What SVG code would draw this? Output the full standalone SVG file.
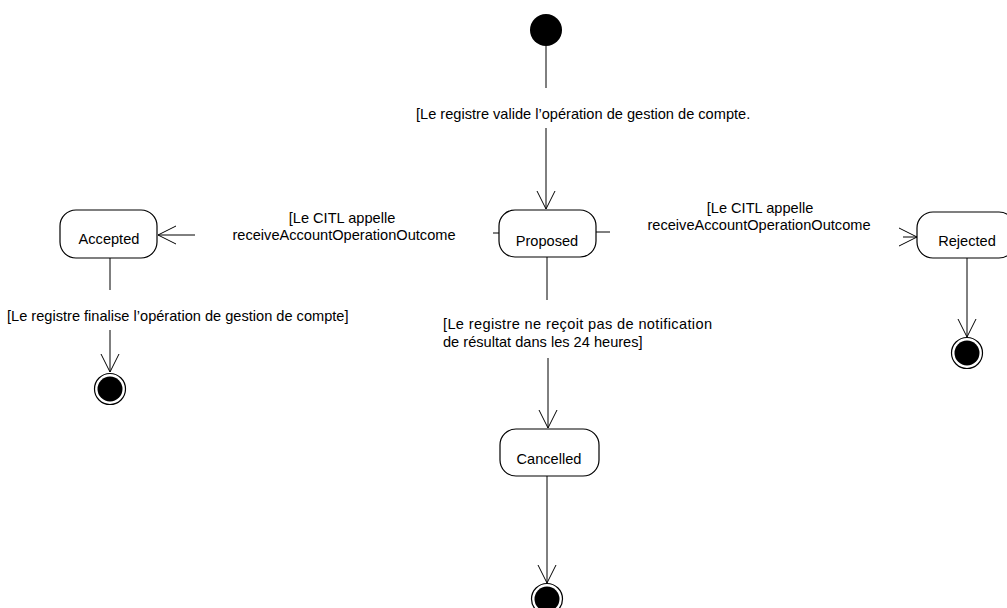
<svg xmlns="http://www.w3.org/2000/svg" width="1007" height="608" viewBox="0 0 1007 608">
<style>
text{font-family:"Liberation Sans",Arial,sans-serif;font-size:14.6px;fill:#000}
.st{fill:#fff;stroke:#000;stroke-width:1.2}
.ln{fill:none;stroke:#000;stroke-width:1}
.c{text-anchor:middle}
</style>
<defs>
<marker id="arr" viewBox="0 0 20 20" refX="18" refY="10" markerWidth="20" markerHeight="20" markerUnits="userSpaceOnUse" orient="auto">
<path d="M0,1 L18,10 L0,19" fill="none" stroke="#000" stroke-width="1"/>
</marker>
</defs>
<g id="connectors">
<line class="ln" x1="546" y1="46" x2="546" y2="88"/>
<line class="ln" x1="546" y1="128" x2="546" y2="209" marker-end="url(#arr)"/>
<line class="ln" x1="493" y1="233" x2="499" y2="233"/>
<line class="ln" x1="195" y1="235" x2="158" y2="235" marker-end="url(#arr)"/>
<line class="ln" x1="596" y1="232" x2="610" y2="232"/>
<line class="ln" x1="903" y1="237" x2="917" y2="237" marker-end="url(#arr)"/>
<line class="ln" x1="547" y1="257" x2="547" y2="300"/>
<line class="ln" x1="548" y1="358" x2="548" y2="428" marker-end="url(#arr)"/>
<line class="ln" x1="547" y1="476" x2="547" y2="583" marker-end="url(#arr)"/>
<line class="ln" x1="110" y1="258" x2="110" y2="290"/>
<line class="ln" x1="110" y1="330" x2="110" y2="372" marker-end="url(#arr)"/>
<line class="ln" x1="967" y1="258" x2="967" y2="337" marker-end="url(#arr)"/>
<text x="416" y="119">[Le registre valide l’opération de gestion de compte.</text>
<text class="c" x="342" y="223">[Le CITL appelle</text>
<text class="c" x="344" y="240">receiveAccountOperationOutcome</text>
<text class="c" x="760" y="213">[Le CITL appelle</text>
<text class="c" x="759" y="230">receiveAccountOperationOutcome</text>
<text x="7" y="321">[Le registre finalise l’opération de gestion de compte]</text>
<text x="443" y="329" textLength="269" lengthAdjust="spacing">[Le registre ne reçoit pas de notification</text>
<text x="443" y="347">de résultat dans les 24 heures]</text>
</g>
<g id="initial"><circle cx="546" cy="30" r="16" fill="#000"/></g>
<g id="proposed"><rect class="st" x="499" y="210" width="97" height="47" rx="16"/><text class="c" x="547" y="246">Proposed</text></g>
<g id="accepted"><rect class="st" x="60" y="210" width="97" height="48" rx="16"/><text class="c" x="109" y="244">Accepted</text></g>
<g id="rejected"><rect class="st" x="917" y="212" width="98" height="46" rx="16"/><text class="c" x="967" y="246">Rejected</text></g>
<g id="cancelled"><rect class="st" x="500" y="429" width="99" height="47" rx="16"/><text class="c" x="549" y="464">Cancelled</text></g>
<g id="final1"><circle cx="110" cy="389" r="15.5" fill="#fff" stroke="#000" stroke-width="1.2"/><circle cx="110" cy="389" r="12.5" fill="#000"/></g>
<g id="final2"><circle cx="967" cy="353" r="15.5" fill="#fff" stroke="#000" stroke-width="1.2"/><circle cx="967" cy="353" r="12.5" fill="#000"/></g>
<g id="final3"><circle cx="547" cy="599" r="15.5" fill="#fff" stroke="#000" stroke-width="1.2"/><circle cx="547" cy="599" r="12.5" fill="#000"/></g>
</svg>
